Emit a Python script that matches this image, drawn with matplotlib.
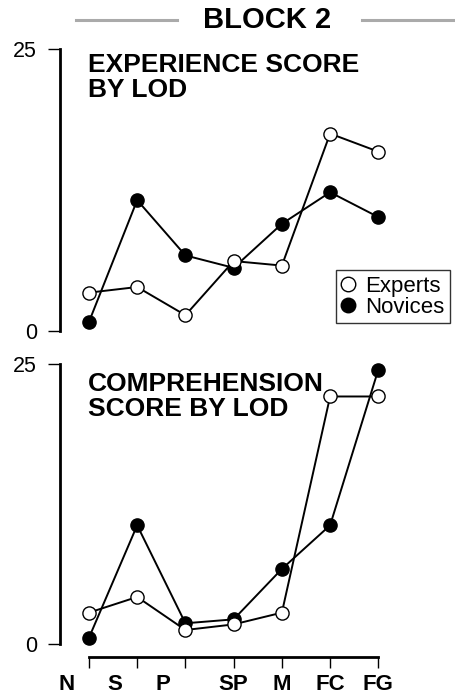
import matplotlib
matplotlib.use("Agg")
import matplotlib.pyplot as plt
from matplotlib.lines import Line2D
from matplotlib.transforms import blended_transform_factory

plt.rcParams["font.family"] = ["Liberation Sans", "DejaVu Sans"]

# Levels of detail (x categories)
lods = ["N", "S", "P", "SP", "M", "FC", "FG"]

# Block 2 - experience score by LOD
exp_experts = [3.4, 3.9, 1.4, 6.2, 5.8, 17.5, 15.9]
exp_novices = [0.8, 11.6, 6.7, 5.6, 9.5, 12.3, 10.1]

# Block 2 - comprehension score by LOD
comp_experts = [2.8, 4.2, 1.25, 1.75, 2.8, 22.1, 22.1]
comp_novices = [0.55, 10.6, 1.85, 2.2, 6.7, 10.6, 24.5]

W, H = 456, 695
DPI = 100
fig = plt.figure(figsize=(W / DPI, H / DPI), dpi=DPI)


def px_axes(left, top, right, bottom):
    return fig.add_axes([left / W, 1 - bottom / H, (right - left) / W, (bottom - top) / H])


def style_axes(ax, show_x):
    x = list(range(len(lods)))
    ax.set_xlim(-0.6, 7.61)
    ax.set_ylim(0, 25)
    for side in ("top", "right"):
        ax.spines[side].set_visible(False)
    ax.spines["left"].set_bounds(0, 25)
    ax.spines["left"].set_linewidth(2.0)
    ax.set_yticks([0, 25])
    ax.tick_params(axis="y", length=8.5, width=1.0, pad=8, labelsize=15.5)
    if show_x:
        ax.spines["bottom"].set_position(("outward", 9.5))
        ax.spines["bottom"].set_bounds(0, 6)
        ax.spines["bottom"].set_linewidth(2.0)
        ax.set_xticks(x, [""] * len(x))
        ax.tick_params(axis="x", length=8, width=1.0, direction="out")
    else:
        ax.spines["bottom"].set_visible(False)
        ax.set_xticks([])
    ax.patch.set_alpha(0)


def draw_series(ax, experts, novices):
    x = list(range(len(lods)))
    ax.plot(x, novices, color="black", lw=1.4, marker="o", ms=9.5,
            mfc="black", mec="black", mew=1.0, clip_on=False, label="Novices", zorder=3)
    ax.plot(x, experts, color="black", lw=1.4, marker="o", ms=9.5,
            mfc="white", mec="black", mew=1.0, clip_on=False, label="Experts", zorder=4)


# MARK: top panel
ax1 = px_axes(60, 49, 456, 331)
style_axes(ax1, show_x=False)
draw_series(ax1, exp_experts, exp_novices)

# MARK: bottom panel
ax2 = px_axes(60, 364, 456, 644)
style_axes(ax2, show_x=True)
draw_series(ax2, comp_experts, comp_novices)

# x labels (first three sit half a step to the left, as in the original)
label_shift = [-0.46, -0.46, -0.46, 0, 0, 0, 0]
lab_tr = blended_transform_factory(ax2.transData, fig.transFigure)
for i, (lab, dx) in enumerate(zip(lods, label_shift)):
    ax2.text(i + dx, 1 - 684 / H, lab, transform=lab_tr, ha="center", va="center",
             fontsize=16, fontweight="bold")


def title_lines(lines, baselines):
    for txt, yb in zip(lines, baselines):
        fig.text(88 / W, 1 - yb / H, txt, ha="left", va="baseline",
                 fontsize=19, fontweight="bold")


# panel titles
title_lines(["EXPERIENCE SCORE", "BY LOD"], [71.7, 96.7])
title_lines(["COMPREHENSION", "SCORE BY LOD"], [390.7, 416])

# block header with grey rules
fig.text(267 / W, 1 - 20 / H, "BLOCK 2", ha="center", va="center",
         fontsize=21, fontweight="bold")
fig.add_artist(Line2D([76 / W, 177 / W], [1 - 20 / H, 1 - 20 / H], color="#aaaaaa", lw=2.2))
fig.add_artist(Line2D([362 / W, 1.0], [1 - 20 / H, 1 - 20 / H], color="#aaaaaa", lw=2.2))

# legend
handles, labels = ax1.get_legend_handles_labels()
leg = fig.legend(handles[::-1], labels[::-1], loc="upper left",
                 bbox_to_anchor=(336 / W, 1 - 270 / H), bbox_transform=fig.transFigure,
                 frameon=True, fancybox=False, fontsize=16, handlelength=0.6,
                 handletextpad=0.45, labelspacing=0.0, borderpad=0.25, borderaxespad=0,
                 markerscale=1.1)
for h in leg.legend_handles:
    h.set_linestyle("none")
leg.get_frame().set_edgecolor("black")
leg.get_frame().set_linewidth(1.0)

fig.savefig("out.png", dpi=DPI)
